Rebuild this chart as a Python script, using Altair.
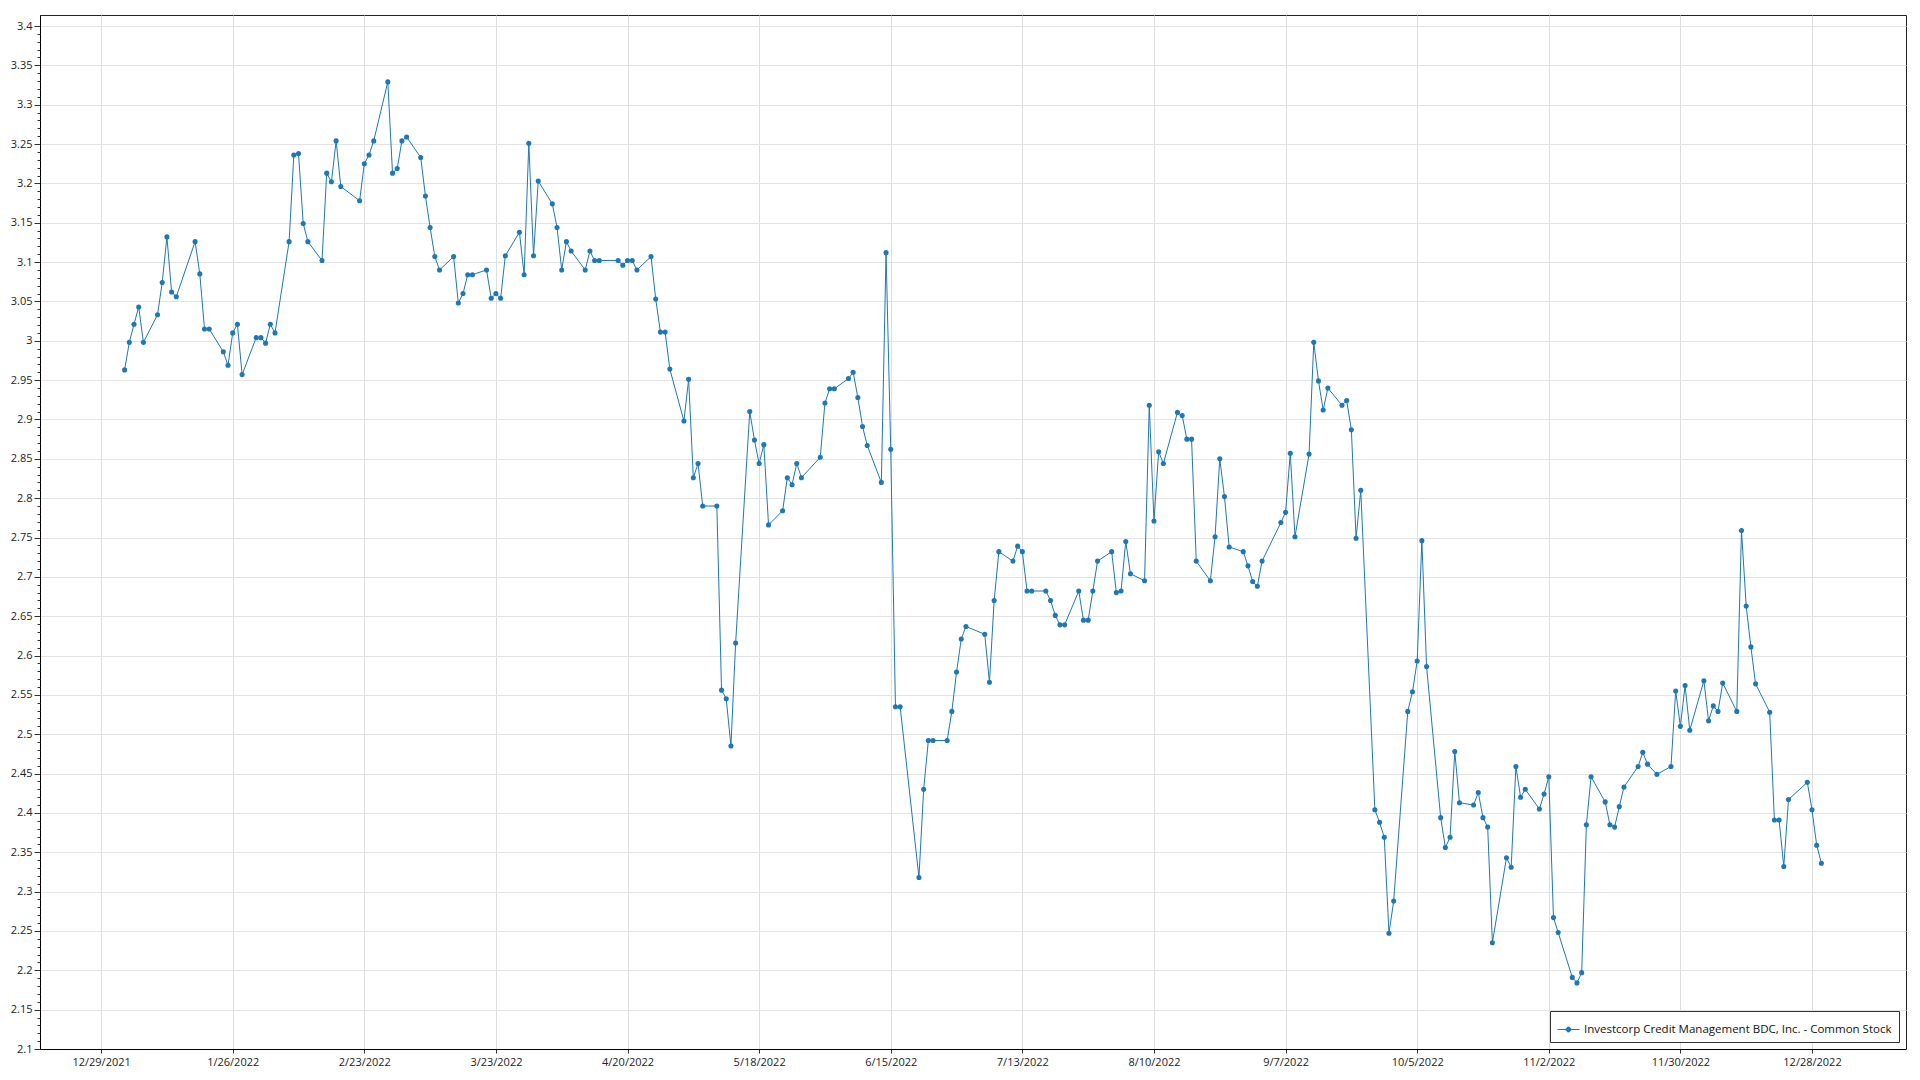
import altair as alt
import pandas as pd
from datetime import datetime, timezone

SERIES = "Investcorp Credit Management BDC, Inc. - Common Stock"
COLOR = "#1f77b4"

# NYSE holidays of 2022 (non-trading weekdays)
HOLIDAYS = ["2022-01-17", "2022-02-21", "2022-04-15", "2022-05-30", "2022-06-20",
            "2022-07-04", "2022-09-05", "2022-11-24", "2022-12-26"]

# daily closing prices per month (trading days, in order)
jan = [2.963, 2.998, 3.021, 3.043, 2.998, 3.033, 3.074, 3.132, 3.062, 3.056,
       3.126, 3.085, 3.015, 3.015, 2.986, 2.969, 3.010, 3.021, 2.957, 3.004]
feb = [3.004, 2.997, 3.021, 3.010, 3.126, 3.236, 3.238, 3.149, 3.126, 3.102,
       3.213, 3.202, 3.254, 3.196, 3.178, 3.225, 3.236, 3.254, 3.329]
mar = [3.213, 3.219, 3.254, 3.259, 3.233, 3.184, 3.144, 3.107, 3.090, 3.107,
       3.048, 3.060, 3.084, 3.084, 3.090, 3.054, 3.060, 3.054, 3.108, 3.138,
       3.084, 3.251, 3.108]
apr = [3.203, 3.174, 3.144, 3.090, 3.126, 3.114, 3.090, 3.114, 3.102, 3.102,
       3.102, 3.096, 3.102, 3.102, 3.090, 3.107, 3.053, 3.011, 3.011, 2.964]
may = [2.898, 2.951, 2.826, 2.844, 2.790, 2.790, 2.556, 2.545, 2.485, 2.616,
       2.910, 2.874, 2.844, 2.868, 2.766, 2.784, 2.826, 2.817, 2.844, 2.826,
       2.852]
jun = [2.921, 2.939, 2.939, 2.952, 2.960, 2.928, 2.891, 2.867, 2.820, 3.112,
       2.862, 2.535, 2.535, 2.318, 2.430, 2.492, 2.492, 2.492, 2.529, 2.579,
       2.621]
jul = [2.637, 2.627, 2.566, 2.670, 2.732, 2.720, 2.739, 2.732, 2.682, 2.682,
       2.682, 2.670, 2.651, 2.639, 2.639, 2.682, 2.645, 2.645, 2.682, 2.720]
aug = [2.732, 2.680, 2.682, 2.745, 2.704, 2.695, 2.918, 2.771, 2.859, 2.844,
       2.909, 2.905, 2.875, 2.875, 2.720, 2.695, 2.751, 2.850, 2.802, 2.738,
       2.732, 2.714, 2.694]
sep = [2.688, 2.720, 2.769, 2.782, 2.857, 2.751, 2.856, 2.998, 2.949, 2.912,
       2.940, 2.918, 2.924, 2.887, 2.749, 2.810, 2.404, 2.388, 2.369, 2.247,
       2.288]
oct_ = [2.529, 2.554, 2.593, 2.746, 2.586, 2.394, 2.356, 2.369, 2.478, 2.413,
        2.410, 2.426, 2.394, 2.382, 2.235, 2.343, 2.331, 2.459, 2.420, 2.430,
        2.405]
nov = [2.424, 2.446, 2.267, 2.248, 2.191, 2.184, 2.197, 2.385, 2.446, 2.414,
       2.385, 2.382, 2.408, 2.433, 2.459, 2.477, 2.462, 2.449, 2.459, 2.555,
       2.510]
dec = [2.562, 2.505, 2.568, 2.517, 2.536, 2.529, 2.565, 2.529, 2.759, 2.663,
       2.611, 2.564, 2.528, 2.391, 2.391, 2.332, 2.417, 2.439, 2.404, 2.359,
       2.336]

x_tick_labels = ["12/29/2021", "1/26/2022", "2/23/2022", "3/23/2022", "4/20/2022",
                 "5/18/2022", "6/15/2022", "7/13/2022", "8/10/2022", "9/7/2022",
                 "10/5/2022", "11/2/2022", "11/30/2022", "12/28/2022"]
y_tick_labels = ["2.1", "2.15", "2.2", "2.25", "2.3", "2.35", "2.4", "2.45", "2.5",
                 "2.55", "2.6", "2.65", "2.7", "2.75", "2.8", "2.85", "2.9", "2.95",
                 "3", "3.05", "3.1", "3.15", "3.2", "3.25", "3.3", "3.35", "3.4"]
x_domain = ["2021-12-16", "2023-01-17"]
y_domain = [2.1, 3.414]

values = jan + feb + mar + apr + may + jun + jul + aug + sep + oct_ + nov + dec
days = [d.strftime("%Y-%m-%d") for d in pd.bdate_range("2022-01-03", "2022-12-30")]
days = [d for d in days if d not in HOLIDAYS]
assert len(days) == len(values)

df = pd.DataFrame({"date": days, "price": values, "series": SERIES})


def ms(dt):
    return dt.replace(tzinfo=timezone.utc).timestamp() * 1000


x_ticks = [ms(datetime.strptime(s, "%m/%d/%Y")) for s in x_tick_labels]
x_dom = [ms(datetime.strptime(s, "%Y-%m-%d")) for s in x_domain]
y_ticks = [float(s) for s in y_tick_labels]
minor = [round(2.1 + 0.01 * i, 2) for i in range(0, 131)]
minor = [v for v in minor if all(abs(v - t) > 1e-6 for t in y_ticks)]

FONT = "Open Sans"
LEG_PATH = ("M-1,0L1,0M0.22,0A0.22,0.22,0,1,1,-0.22,0"
            "A0.22,0.22,0,1,1,0.22,0Z")

xscale = alt.Scale(type="utc", domain=x_dom, nice=False)
xaxis = alt.Axis(values=x_ticks, title=None,
                 labelExpr="utcFormat(datum.value, '%-m/%-d/%Y')",
                 grid=True, gridColor="#dedede", tickSize=4,
                 tickColor="#333", domainColor="black",
                 labelFont=FONT, labelFontSize=11, labelColor="#222",
                 labelPadding=3, labelOverlap=False)
yscale = alt.Scale(domain=y_domain, nice=False, zero=False)

line = alt.Chart(df).mark_line(
    strokeWidth=1,
    point=alt.OverlayMarkDef(size=26, filled=True, opacity=1),
).encode(
    x=alt.X("date:T", scale=xscale, axis=xaxis),
    y=alt.Y("price:Q", scale=yscale,
            axis=alt.Axis(values=y_ticks, format=".2~f", title=None, orient="left",
                          grid=True, gridColor="#e3e3e3", tickSize=6,
                          tickColor="#333", domainColor="black",
                          labelFont=FONT, labelFontSize=11, labelColor="#222",
                          labelPadding=2, labelOverlap=False)),
    color=alt.Color("series:N",
                    scale=alt.Scale(range=[COLOR]),
                    legend=alt.Legend(title=None, orient="bottom-right", offset=7,
                                      fillColor="white", strokeColor="#333",
                                      padding=7, cornerRadius=0,
                                      labelFont=FONT, labelFontSize=11.5,
                                      labelColor="#111", labelLimit=600,
                                      symbolType=LEG_PATH, symbolSize=484,
                                      symbolStrokeWidth=1,
                                      symbolFillColor=COLOR,
                                      symbolStrokeColor=COLOR)),
)

minor_layer = alt.Chart(df).mark_point(opacity=0).encode(
    x=alt.X("date:T", scale=xscale, axis=xaxis),
    y=alt.Y("price:Q", scale=yscale,
            axis=alt.Axis(values=minor, labels=False, grid=False, domain=False,
                          tickSize=3, tickColor="#333", title=None, orient="left")),
)

chart = alt.layer(line, minor_layer).resolve_axis(y="independent").properties(
    width=1866, height=1034,
    autosize=alt.AutoSizeParams(type="none"),
    padding={"left": 32, "top": 7, "right": 5, "bottom": 22},
).configure_view(stroke="#222", strokeWidth=1)

chart.save("out.html", embed_options={"renderer": "svg", "actions": False})
